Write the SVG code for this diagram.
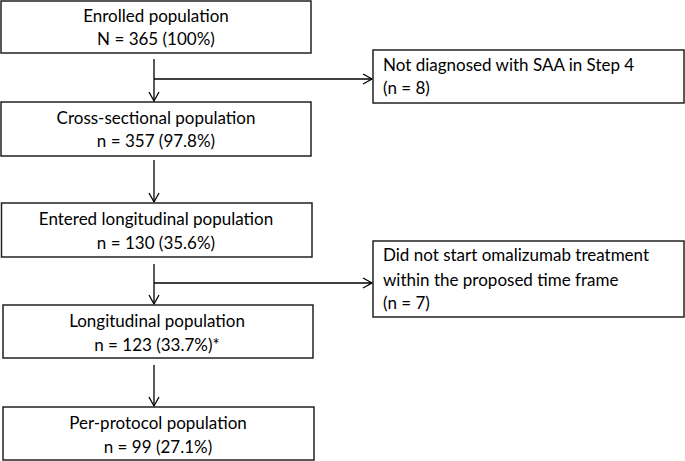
<svg xmlns="http://www.w3.org/2000/svg" width="685" height="461" viewBox="0 0 685 461">
<defs>
<style>
.box{fill:#fff;stroke:#222;stroke-width:1.5}
.t{font-family:Lato,"Liberation Sans",sans-serif;font-size:17px;fill:#000}
.c{text-anchor:middle}
.ln{fill:none;stroke:#000;stroke-width:1.3}
</style>
<marker id="ah" markerWidth="12" markerHeight="12" refX="10" refY="6" orient="auto" markerUnits="userSpaceOnUse">
<path d="M1,1 L10,6 L1,11" fill="none" stroke="#000" stroke-width="1.3"/>
</marker>
</defs>
<rect width="685" height="461" fill="#fff"/>
<g id="connectors">
<path class="ln" d="M154,59 V101" marker-end="url(#ah)"/>
<path class="ln" d="M154,79 H372" marker-end="url(#ah)"/>
<path class="ln" d="M154,160 V202" marker-end="url(#ah)"/>
<path class="ln" d="M154,264 V304" marker-end="url(#ah)"/>
<path class="ln" d="M154,283 H372" marker-end="url(#ah)"/>
<path class="ln" d="M154,365 V406" marker-end="url(#ah)"/>
</g>
<g id="enrolled">
<rect class="box" x="1" y="1" width="310" height="52"/>
<text class="t c" x="156" y="22">Enrolled population</text>
<text class="t c" x="156" y="45">N = 365 (100%)</text>
</g>
<g id="cross">
<rect class="box" x="1" y="102" width="310" height="54"/>
<text class="t c" x="156" y="124">Cross-sectional population</text>
<text class="t c" x="156" y="147">n = 357 (97.8%)</text>
</g>
<g id="entered">
<rect class="box" x="1.5" y="203" width="310.5" height="54"/>
<text class="t c" x="156" y="225">Entered longitudinal population</text>
<text class="t c" x="156" y="249">n = 130 (35.6%)</text>
</g>
<g id="longitudinal">
<rect class="box" x="3" y="305" width="310" height="53"/>
<text class="t c" x="157" y="327">Longitudinal population</text>
<text class="t c" x="157" y="351">n = 123 (33.7%)*</text>
</g>
<g id="perprotocol">
<rect class="box" x="3" y="407" width="311" height="53"/>
<text class="t c" x="158" y="429">Per-protocol population</text>
<text class="t c" x="158" y="453">n = 99 (27.1%)</text>
</g>
<g id="notdiag">
<rect class="box" x="373" y="50" width="311" height="53"/>
<text class="t" x="383" y="71">Not diagnosed with SAA in Step 4</text>
<text class="t" x="383" y="94">(n = 8)</text>
</g>
<g id="notstart">
<rect class="box" x="373" y="241" width="311" height="76"/>
<text class="t" x="383" y="261">Did not start omalizumab treatment</text>
<text class="t" x="383" y="286">within the proposed time frame</text>
<text class="t" x="383" y="309">(n = 7)</text>
</g>
</svg>
